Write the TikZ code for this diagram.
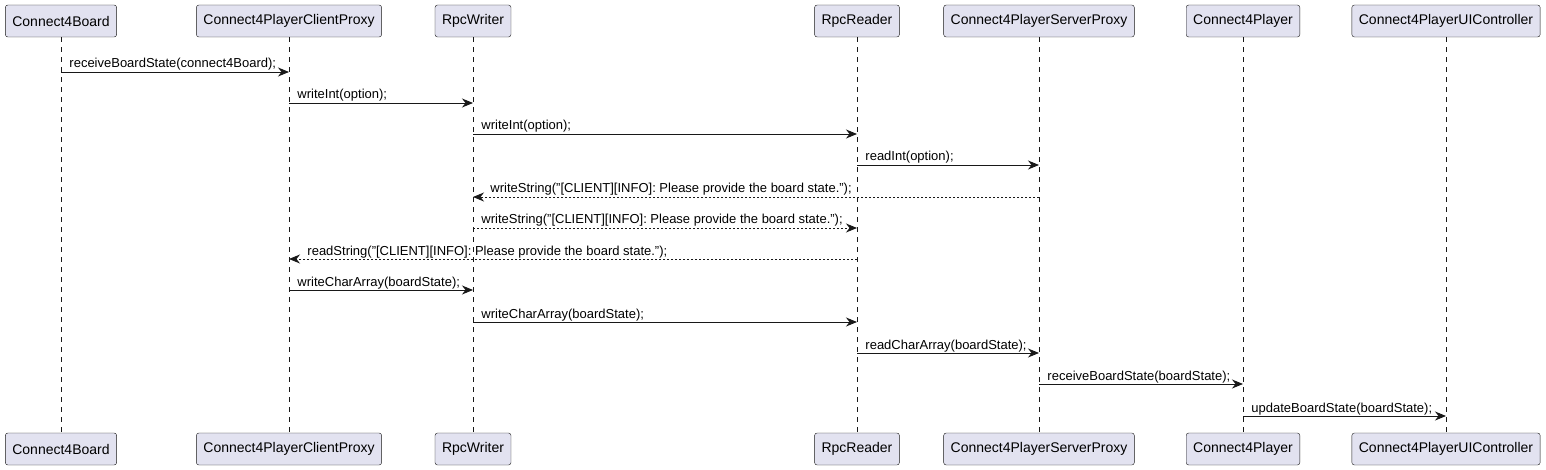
\documentclass[tikz,border=0pt]{standalone}
\usepackage{fontspec}
\setmainfont{Liberation Sans}
\usetikzlibrary{arrows.meta}
\definecolor{boxfill}{HTML}{E2E2F0}
\definecolor{umlline}{HTML}{181818}

\begin{document}
\begin{tikzpicture}
[x=1pt, y=-1pt,
  participant/.style={rectangle, draw=umlline, fill=boxfill, rounded corners=2.5pt,
    minimum height=32pt, inner xsep=7pt, font=\fontsize{14}{16}\selectfont},
  lifeline/.style={draw=umlline, line width=0.6pt, dash pattern=on 5pt off 5pt},
  msg/.style={draw=umlline, line width=0.9pt, -{Stealth[length=11pt, width=9pt, inset=3.5pt]}},
  reply/.style={msg, dash pattern=on 2pt off 2pt},
  msglabel/.style={anchor=base west, inner sep=0pt, yshift=4pt, font=\fontsize{13}{15}\selectfont}]
  \useasboundingbox (0,0) rectangle (1546,470);
  % participants, top row
  \node[participant] (cbT) at (61,21)   {Connect4Board};
  \node[participant] (cpT) at (289,21)  {Connect4PlayerClientProxy};
  \node[participant] (rwT) at (473,21)  {RpcWriter};
  \node[participant] (rrT) at (857,21)  {RpcReader};
  \node[participant] (spT) at (1039,21) {Connect4PlayerServerProxy};
  \node[participant] (plT) at (1243,21) {Connect4Player};
  \node[participant] (uiT) at (1446,21) {Connect4PlayerUIController};
  % participants, bottom row
  \node[participant] (cbB) at (61,449)   {Connect4Board};
  \node[participant] (cpB) at (289,449)  {Connect4PlayerClientProxy};
  \node[participant] (rwB) at (473,449)  {RpcWriter};
  \node[participant] (rrB) at (857,449)  {RpcReader};
  \node[participant] (spB) at (1039,449) {Connect4PlayerServerProxy};
  \node[participant] (plB) at (1243,449) {Connect4Player};
  \node[participant] (uiB) at (1446,449) {Connect4PlayerUIController};
  % lifelines
  \draw[lifeline] (cbT.south) -- (cbB.north);
  \draw[lifeline] (cpT.south) -- (cpB.north);
  \draw[lifeline] (rwT.south) -- (rwB.north);
  \draw[lifeline] (rrT.south) -- (rrB.north);
  \draw[lifeline] (spT.south) -- (spB.north);
  \draw[lifeline] (plT.south) -- (plB.north);
  \draw[lifeline] (uiT.south) -- (uiB.north);
  % messages
  \draw[msg] (cbT |- 0,72) node[msglabel, xshift=8pt] {receiveBoardState(connect4Board);} -- (cpT |- 0,72);
  \draw[msg] (cpT |- 0,103) node[msglabel, xshift=8pt] {writeInt(option);} -- (rwT |- 0,103);
  \draw[msg] (rwT |- 0,134) node[msglabel, xshift=8pt] {writeInt(option);} -- (rrT |- 0,134);
  \draw[msg] (rrT |- 0,165) node[msglabel, xshift=8pt] {readInt(option);} -- (spT |- 0,165);
  \draw[reply] (spT |- 0,197) -- (rwT |- 0,197)
    node[msglabel, xshift=17pt] {writeString("[CLIENT][INFO]: Please provide the board state.");};
  \draw[reply] (rwT |- 0,228) node[msglabel, xshift=8pt] {writeString("[CLIENT][INFO]: Please provide the board state.");} -- (rrT |- 0,228);
  \draw[reply] (rrT |- 0,259) -- (cpT |- 0,259)
    node[msglabel, xshift=18pt] {readString("[CLIENT][INFO]: Please provide the board state.");};
  \draw[msg] (cpT |- 0,290) node[msglabel, xshift=8pt] {writeCharArray(boardState);} -- (rwT |- 0,290);
  \draw[msg] (rwT |- 0,322) node[msglabel, xshift=8pt] {writeCharArray(boardState);} -- (rrT |- 0,322);
  \draw[msg] (rrT |- 0,353) node[msglabel, xshift=8pt] {readCharArray(boardState);} -- (spT |- 0,353);
  \draw[msg] (spT |- 0,384) node[msglabel, xshift=8pt] {receiveBoardState(boardState);} -- (plT |- 0,384);
  \draw[msg] (plT |- 0,416) node[msglabel, xshift=8pt] {updateBoardState(boardState);} -- (uiT |- 0,416);
\end{tikzpicture}
\end{document}
